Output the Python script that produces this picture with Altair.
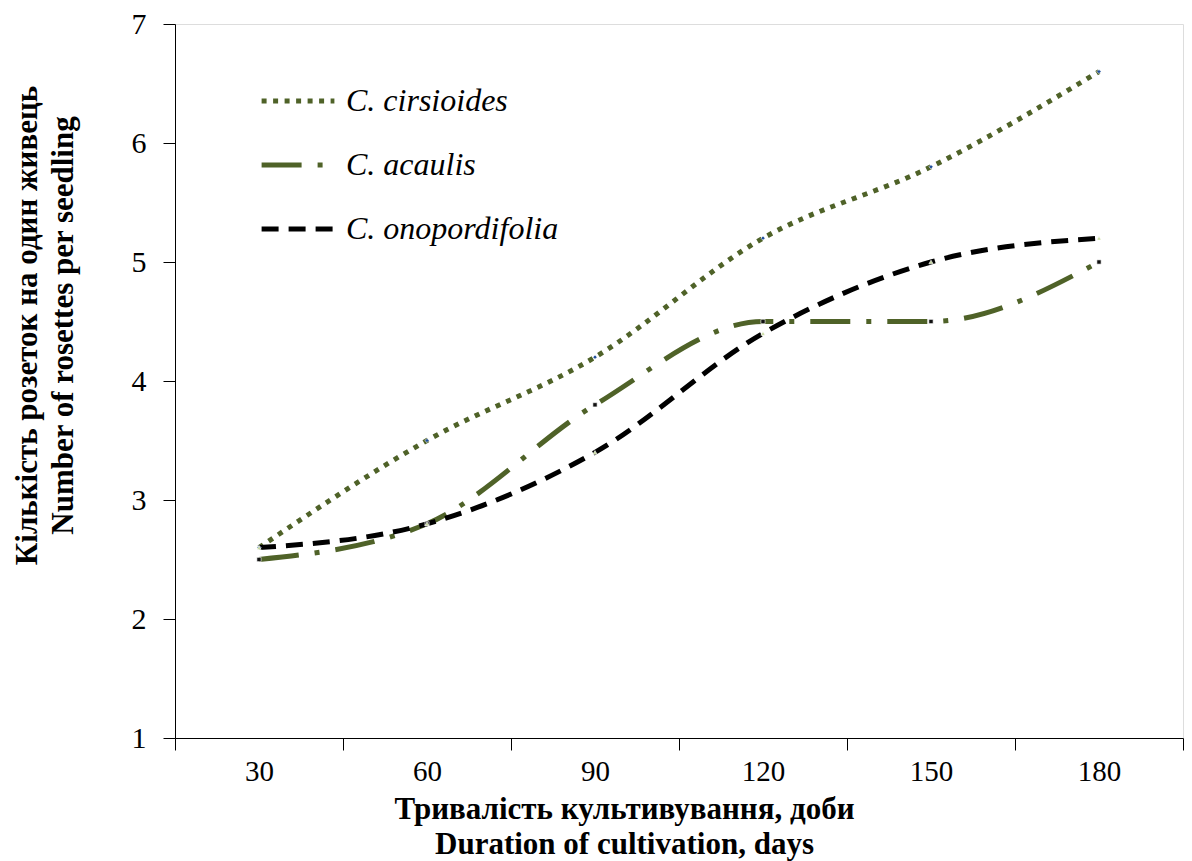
import altair as alt
import pandas as pd

days = ["30", "60", "90", "120", "150", "180"]
series_names = ["C. cirsioides", "C. acaulis", "C. onopordifolia"]
cirsioides = [2.6, 3.5, 4.2, 5.2, 5.8, 6.6]
acaulis = [2.5, 2.8, 3.8, 4.5, 4.5, 5.0]
onopordifolia = [2.6, 2.8, 3.4, 4.4, 5.0, 5.2]

rows = []
for name, vals in zip(series_names, [cirsioides, acaulis, onopordifolia]):
    for d, v in zip(days, vals):
        rows.append({"day": d, "value": v, "series": name, "marker": name + " "})
df = pd.DataFrame(rows)

FONT = "'Liberation Serif', 'Times New Roman', serif"
olive = "#4F6228"

x_enc = alt.X("day:N", sort=days, bandPosition=0.5,
              scale=alt.Scale(type="band", paddingInner=0, paddingOuter=0),
              axis=alt.Axis(title=["Тривалість культивування, доби", "Duration of cultivation, days"],
                            tickBand="extent", labelAngle=0, tickSize=12, tickColor="#000",
                            domainColor="#000", labelFont=FONT, labelFontSize=29, labelColor="#000",
                            labelPadding=7, titleFont=FONT, titleFontSize=31, titleFontWeight="bold",
                            titleColor="#000", titleLineHeight=35, titleX=449, titleY=56,
                            titleBaseline="top", titleAnchor="start", titleAlign="center"))
y_enc = alt.Y("value:Q",
              scale=alt.Scale(domain=[1, 7], nice=False, zero=False),
              axis=alt.Axis(title=["Кількість  розеток на один живець", "Number of rosettes per seedling"],
                            values=[1, 2, 3, 4, 5, 6, 7], format="d", grid=False, tickSize=12,
                            tickColor="#000", domainColor="#000", labelFont=FONT, labelFontSize=30,
                            labelColor="#000", labelPadding=17, titleFont=FONT, titleFontSize=31,
                            titleFontWeight="bold", titleColor="#000", titleLineHeight=36,
                            titleAngle=-90, titleX=-163, titleY=301, titleBaseline="top",
                            titleAlign="center", titleAnchor="start"))

lines = alt.Chart(df).mark_line(interpolate="monotone").encode(
    x=x_enc,
    y=y_enc,
    color=alt.Color("series:N", sort=series_names,
                    scale=alt.Scale(domain=series_names, range=[olive, olive, "#000000"]),
                    legend=alt.Legend(title=None, orient="none", legendX=84, legendY=45,
                                      symbolType="stroke", symbolSize=5300, symbolStrokeWidth=5,
                                      labelFont=FONT, labelFontSize=32, labelFontStyle="italic",
                                      labelColor="#000", labelOffset=9, rowPadding=0,
                                      clipHeight=64, labelLimit=400)),
    strokeDash=alt.StrokeDash("series:N", sort=series_names,
                              scale=alt.Scale(domain=series_names,
                                              range=[[5, 6.5], [40, 16, 5, 16], [17, 10]])),
    strokeWidth=alt.StrokeWidth("series:N", sort=series_names,
                                scale=alt.Scale(domain=series_names, range=[5, 5, 3.5])),
)

points = alt.Chart(df).mark_point(filled=True, size=18, strokeWidth=0.6, opacity=1).encode(
    x=alt.X("day:N", sort=days, bandPosition=0.5),
    y=alt.Y("value:Q"),
    shape=alt.Shape("marker:N", scale=alt.Scale(domain=[s + " " for s in series_names],
                                                range=["diamond", "square", "triangle-up"]),
                    legend=None),
    fill=alt.Fill("marker:N", scale=alt.Scale(domain=[s + " " for s in series_names],
                                              range=["#1F4E9A", "#111111", "#C4D79B"]),
                  legend=None),
    stroke=alt.value("#ffffff"),
)

chart = alt.layer(lines, points).properties(
    width=1008, height=714,
    autosize=alt.AutoSizeParams(type="none"),
    padding={"left": 167, "top": 16, "right": 1, "bottom": 123},
).configure_view(stroke=None).configure(background="#ffffff", font=FONT)

chart.save("out.html", embed_options={"renderer": "svg", "actions": False})
